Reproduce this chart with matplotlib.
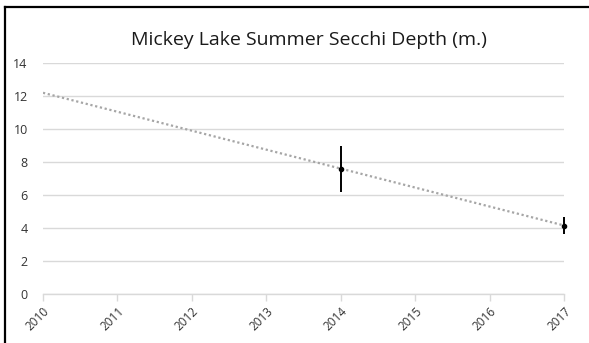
import numpy as np
import matplotlib
matplotlib.use("Agg")
import matplotlib.pyplot as plt
from matplotlib.lines import Line2D

plt.rcParams['font.family'] = ['Open Sans', 'DejaVu Sans']

years = [2014, 2017]
secchi = [7.6, 4.15]
secchi_err = [1.4, 0.5]
year_ticks = [2010, 2011, 2012, 2013, 2014, 2015, 2016, 2017]
depth_ticks = [0, 2, 4, 6, 8, 10, 12, 14]

fig = plt.figure(figsize=(5.89, 3.43), dpi=100)
ax = fig.add_axes([0.073, 0.143, 0.885, 0.673])

# linear trend across the full year range
slope, icept = np.polyfit(years, secchi, 1)
tx = np.array([year_ticks[0], year_ticks[-1]])
ax.plot(tx, slope * tx + icept, color="#a6a6a6", lw=1.6, ls=(0, (1, 1.2)), zorder=2)

ax.errorbar(years, secchi, yerr=secchi_err, fmt="o", color="black", ms=3,
            elinewidth=1.4, capsize=0, zorder=3, clip_on=False)

ax.set_xlim(2010, 2017)
ax.set_ylim(0, 14)
ax.set_xticks(year_ticks)
ax.set_xticklabels([str(y) for y in year_ticks], rotation=45, ha="right",
                   rotation_mode="anchor", fontsize=8.5, color="#333333")
ax.set_yticks(depth_ticks)
ax.set_yticklabels([str(d) for d in depth_ticks], fontsize=9, color="#333333")
ax.tick_params(axis="y", length=0, pad=11)
ax.tick_params(axis="x", length=5, color="#d9d9d9", width=1, pad=3)
ax.grid(axis="y", color="#d9d9d9", lw=1)
ax.set_axisbelow(True)
for s in ["top", "right", "left"]:
    ax.spines[s].set_visible(False)
ax.spines["bottom"].set_color("#d9d9d9")
ax.spines["bottom"].set_linewidth(1)

fig.text(0.525, 0.882, "Mickey Lake Summer Secchi Depth (m.)", ha="center",
         va="center", fontsize=14, color="#1a1a1a")

# frame lines along top and left edge
fig.add_artist(Line2D([5 / 589, 1], [1 - 6.5 / 343] * 2, color="black", lw=1.6,
                      transform=fig.transFigure))
fig.add_artist(Line2D([5 / 589] * 2, [0, 1 - 6.5 / 343], color="black", lw=1.6,
                      transform=fig.transFigure))

fig.savefig("out.png", dpi=100)
